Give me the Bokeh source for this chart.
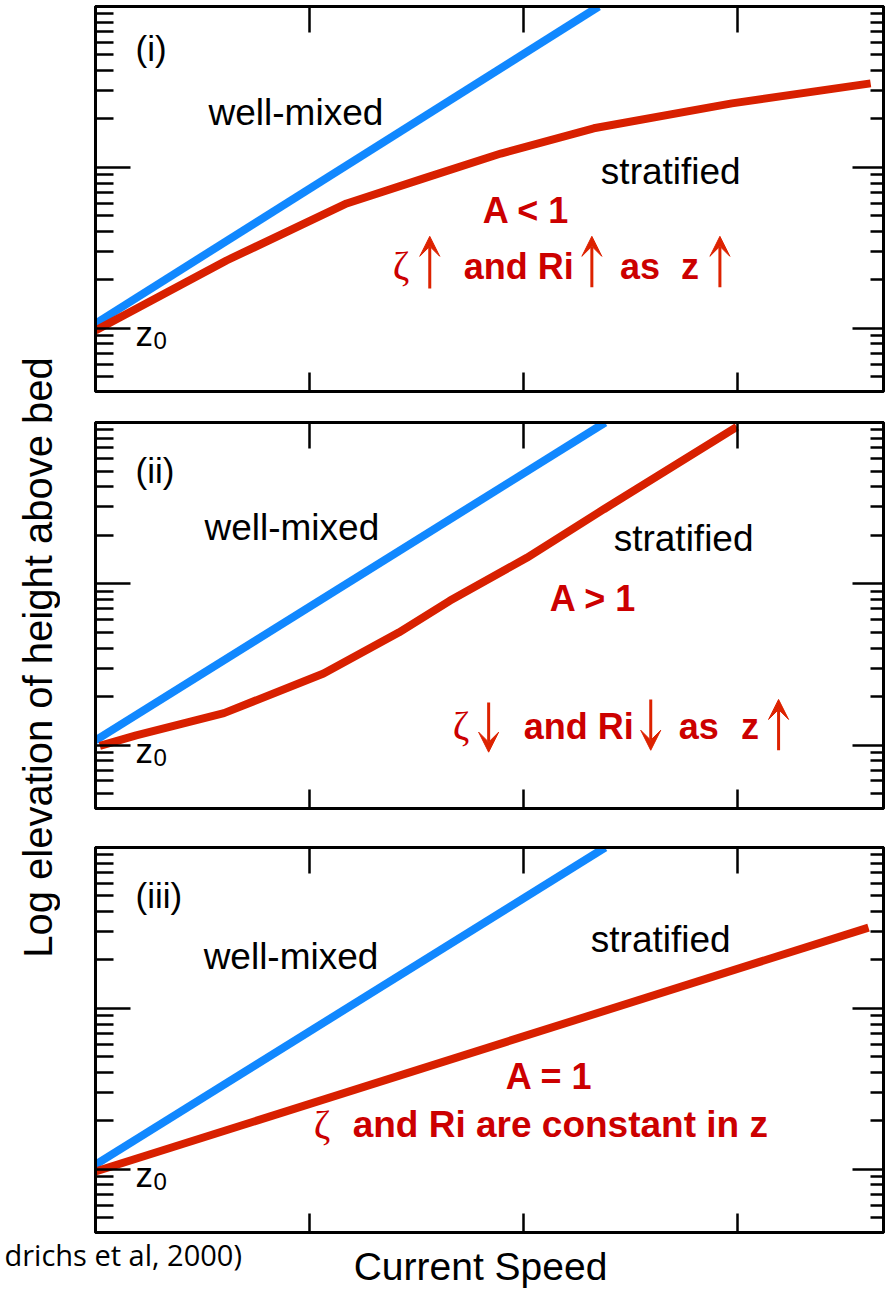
import math
from bokeh.plotting import figure
from bokeh.models import Range1d, LogAxis, LinearAxis, FixedTicker, Label, Arrow, VeeHead
from bokeh.layouts import column, row
from bokeh.embed import file_html
from bokeh.resources import INLINE

# ---------------- data ----------------
speed_ticks = [1, 2, 3]
z_major = [1, 10, 100]
z_minor = [0.5, 0.6, 0.7, 0.8, 0.9,
           2, 3, 4, 5, 6, 7, 8, 9,
           20, 30, 40, 50, 60, 70, 80, 90]

# panel (i)  A < 1
mixed1_u = [0.0, 2.35]
mixed1_z = [1.07, 100.0]
strat1_u = [0.0, 0.612, 1.173, 1.533, 1.893, 2.327, 2.972, 3.62]
strat1_z = [0.97, 2.64, 5.97, 8.55, 12.2, 17.5, 25.0, 33.3]

# panel (ii)  A > 1
mixed2_u = [0.0, 2.38]
mixed2_z = [1.07, 100.0]
strat2_u = [0.02, 0.19, 0.60, 1.065, 1.416, 1.654, 2.014, 2.374, 2.995]
strat2_z = [0.99, 1.15, 1.58, 2.78, 4.99, 7.85, 14.5, 29.0, 94.0]

# panel (iii)  A = 1
mixed3_u = [0.0, 2.38]
mixed3_z = [1.07, 100.0]
strat3_u = [0.0, 3.61]
strat3_z = [0.97, 31.8]

# ---------------- styles ----------------
BLUE = "#1188ff"
RED_LINE = "#d82000"
RED_TEXT = "#cc0000"
RED_ARROW = "#dd2200"
FONT = "Liberation Sans"
LW = 8

X_MAX = 3.68
Z_MIN, Z_MAX = 0.405, 100.0


def hide_labels(ax):
    ax.major_label_text_color = None
    ax.major_label_text_font_size = "2px"
    ax.major_label_standoff = 0


def make_panel(height, b_top, b_bottom):
    p = figure(width=835, height=height,
               x_range=Range1d(0, X_MAX), y_range=Range1d(Z_MIN, Z_MAX),
               y_axis_type="log", x_axis_location=None, y_axis_location=None,
               output_backend="svg", toolbar_location=None,
               min_border_left=35, min_border_right=12,
               min_border_top=b_top, min_border_bottom=b_bottom)
    p.grid.visible = False
    p.outline_line_color = "black"
    p.outline_line_width = 3
    for loc, mj, mn in [("left", 35, 18), ("right", 31, 13)]:
        ax = LogAxis(ticker=FixedTicker(ticks=z_major, minor_ticks=z_minor),
                     major_tick_in=mj, major_tick_out=0,
                     minor_tick_in=mn, minor_tick_out=0,
                     axis_line_width=3, major_tick_line_width=2.5,
                     minor_tick_line_width=2.5)
        hide_labels(ax)
        p.add_layout(ax, loc)
    for loc, mj in [("above", 26), ("below", 19)]:
        ax = LinearAxis(ticker=FixedTicker(ticks=speed_ticks, minor_ticks=[]),
                        major_tick_in=mj, major_tick_out=0,
                        minor_tick_in=0, minor_tick_out=0,
                        axis_line_width=3, major_tick_line_width=2.5)
        hide_labels(ax)
        p.add_layout(ax, loc)
    return p


def txt(p, x, y, s, size="37px", color="black", style="normal", font=FONT):
    p.add_layout(Label(x=x, y=y, text=s, text_font=font, text_font_size=size,
                       text_color=color, text_font_style=style, y_offset=12,
                       text_align="left", text_baseline="alphabetic"))


def red(p, x, y, s, size="36px"):
    txt(p, x, y, s, size=size, color=RED_TEXT, style="bold")


def zeta(p, x, y):
    txt(p, x, y, "ζ", size="40px", color=RED_TEXT, font="Liberation Serif")


def arrow(p, x, y0, y1):
    p.add_layout(Arrow(end=VeeHead(size=20, fill_color=RED_ARROW, line_color=RED_ARROW,
                                   line_width=1),
                       x_start=x, y_start=y0, x_end=x, y_end=y1,
                       line_color=RED_ARROW, line_width=3))


def z0(p, yz, y0):
    txt(p, 0.187, yz, "z", size="35px")
    txt(p, 0.271, y0, "0", size="24px")


# ---------------- panel (i) ----------------
p1 = make_panel(406, 6, 15)
p1.line(mixed1_u, mixed1_z, line_width=LW, color=BLUE)
p1.line(strat1_u, strat1_z, line_width=LW, color=RED_LINE)
txt(p1, 0.187, 46.2, "(i)", size="35px")
txt(p1, 0.528, 18.5, "well-mixed")
txt(p1, 2.36, 7.96, "stratified")
red(p1, 1.808, 4.55, "A < 1")
zeta(p1, 1.388, 2.07)
red(p1, 1.72, 2.04, "and Ri")
red(p1, 2.449, 2.04, "as")
red(p1, 2.734, 2.04, "z")
arrow(p1, 1.561, 1.77, 3.73)
arrow(p1, 2.318, 1.80, 3.73)
arrow(p1, 2.916, 1.80, 3.73)
z0(p1, 0.784, 0.709)

# ---------------- panel (ii) ----------------
p2 = make_panel(417, 16, 15)
p2.line(mixed2_u, mixed2_z, line_width=LW, color=BLUE)
p2.line(strat2_u, strat2_z, line_width=LW, color=RED_LINE)
txt(p2, 0.187, 42.7, "(ii)", size="35px")
txt(p2, 0.509, 18.9, "well-mixed")
txt(p2, 2.42, 16.0, "stratified")
red(p2, 2.121, 6.81, "A > 1")
zeta(p2, 1.668, 1.12)
red(p2, 2.0, 1.10, "and Ri")
red(p2, 2.724, 1.10, "as")
red(p2, 3.014, 1.10, "z")
arrow(p2, 1.836, 1.84, 0.905)
arrow(p2, 2.593, 1.92, 0.93)
arrow(p2, 3.19, 0.93, 1.92)
z0(p2, 0.785, 0.711)

# ---------------- panel (iii) ----------------
p3 = make_panel(413, 24, 4)
p3.line(mixed3_u, mixed3_z, line_width=LW, color=BLUE)
p3.line(strat3_u, strat3_z, line_width=LW, color=RED_LINE)
txt(p3, 0.187, 42.4, "(iii)", size="35px")
txt(p3, 0.505, 17.7, "well-mixed")
txt(p3, 2.313, 22.6, "stratified")
red(p3, 1.916, 3.18, "A = 1")
zeta(p3, 1.019, 1.60)
red(p3, 1.201, 1.60, "and Ri are constant in z", size="37px")
z0(p3, 0.784, 0.709)

# ---------------- y label column ----------------
lab = figure(width=60, height=1236, x_range=Range1d(0, 60), y_range=Range1d(0, 1236),
             x_axis_location=None, y_axis_location=None, output_backend="svg",
             toolbar_location=None, min_border=0, outline_line_color=None)
lab.grid.visible = False
lab.add_layout(Label(x=37, y=1236 - 657, text="Log elevation of height above bed",
                     angle=math.pi / 2, text_align="center", text_baseline="middle",
                     text_font=FONT, text_font_size="40px", text_color="black"))

# ---------------- bottom strip ----------------
bot = figure(width=895, height=61, x_range=Range1d(0, 895), y_range=Range1d(0, 61),
             x_axis_location=None, y_axis_location=None, output_backend="svg",
             toolbar_location=None, min_border=0, outline_line_color=None)
bot.grid.visible = False
bot.add_layout(Label(x=480, y=31, text="Current Speed", text_align="center",
                     text_baseline="alphabetic", text_font=FONT, text_font_size="39px",
                     text_color="black"))
bot.add_layout(Label(x=4, y=43, text="drichs et al, 2000)", text_align="left",
                     text_baseline="alphabetic", text_font="Open Sans",
                     text_font_size="29px", text_color="black"))

layout = column(row(lab, column(p1, p2, p3)), bot)
open("out.html", "w").write(file_html(layout, INLINE))
